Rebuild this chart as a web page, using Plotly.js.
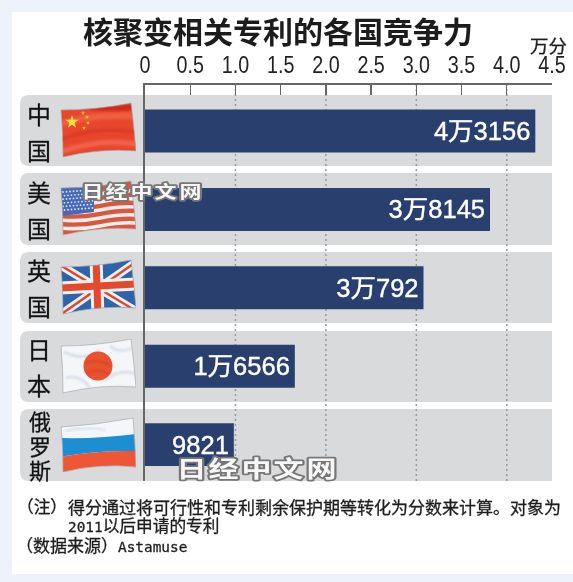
<!DOCTYPE html>
<html><head><meta charset="utf-8">
<script src="https://cdn.plot.ly/plotly-3.0.1.min.js"></script>
<style>html,body{margin:0;padding:0;background:#eef2fb;overflow:hidden}#chart{width:573px;height:582px;filter:blur(0.45px)}</style>
</head><body><div id="chart"></div>
<script>
const categories = ['中国','美国','英国','日本','俄罗斯'];
const scores = [43156,38145,30792,16566,9821];
const barLabels = ['4万3156','3万8145','3万792','1万6566','9821'];
const tickValues = [0,5000,10000,15000,20000,25000,30000,35000,40000,45000];
const tickLabels = ['0','0.5','1.0','1.5','2.0','2.5','3.0','3.5','4.0','4.5'];
const gridValues = [10000,20000,30000,40000];
const W=573,H=582;
const CJK='"Noto Sans CJK SC"';
const px=x=>x/W, py=y=>1-y/H;
const P=(x,y)=>px(x)+' '+py(y);

const bandRows=[[95,166],[173,245],[252,323],[331,402],[409,481]];
const shapes=[{type:'rect',xref:'paper',yref:'paper',x0:px(12),x1:1,y0:py(574),y1:py(12),fillcolor:'#fff',line:{width:0},layer:'below'}];
bandRows.forEach(([t,b])=>{const r=9,L=20,R=552;
 shapes.push({type:'path',xref:'paper',yref:'paper',layer:'below',fillcolor:'#d8dadc',line:{width:0},
  path:`M ${P(L+r,t)} L ${P(R,t)} L ${P(R,b)} L ${P(L+r,b)} Q ${P(L,b)} ${P(L,b-r)} L ${P(L,t+r)} Q ${P(L,t)} ${P(L+r,t)} Z`});});
gridValues.forEach(v=>shapes.push({type:'line',xref:'x',yref:'y domain',x0:v,x1:v,y0:0,y1:1,layer:'below',line:{color:'#9a9a9a',width:1.5,dash:'2px,3px'}}));

function flag(inner,clip){
 clip=clip||'M1 8 Q36 8 71 1 Q74 25 76 49 Q40 46 3 55 Q3 30 1 8 Z';
 const svg=`<svg xmlns="http://www.w3.org/2000/svg" width="228" height="168" viewBox="0 0 76 56"><defs><clipPath id="c"><path d="${clip}"/></clipPath><filter id="b"><feGaussianBlur stdDeviation="0.9"/></filter><filter id="s"><feGaussianBlur stdDeviation="0.3"/></filter></defs><g clip-path="url(#c)">${inner}</g><path d="${clip}" fill="none" stroke="#a9a9a9" stroke-width="0.7"/></svg>`;
 return 'data:image/svg+xml;charset=utf-8,'+encodeURIComponent(svg);
}
const star=(x,y,r,c)=>{let p=[];for(let i=0;i<10;i++){const a=-Math.PI/2+i*Math.PI/5,q=i%2?r*0.4:r;p.push((x+q*Math.cos(a)).toFixed(2)+','+(y+q*Math.sin(a)).toFixed(2));}return `<polygon points="${p.join(' ')}" fill="${c}"/>`;};
let usStripes='';
for(let i=0;i<6;i++){const y=12+i*8;usStripes+=`<path d="M0 ${y+4} Q20 ${y+6} 40 ${y+2} T76 ${y-1}" stroke="#f6eeea" stroke-width="3.6" fill="none"/>`;}
let usDots='';
for(let r=0;r<6;r++)for(let c=0;c<9;c++)usDots+=`<circle cx="${3+c*3.5+(r%2)*1.5}" cy="${12+r*3.6-c*0.25}" r="0.9" fill="#dfe6f6"/>`;
const flags=[
 {top:102,src:flag(`<rect width="76" height="56" fill="#e9472d"/><g filter="url(#b)">
  <path d="M0 22 Q30 12 76 14" stroke="#ef5f41" stroke-width="6" fill="none"/><path d="M0 38 Q30 24 76 30" stroke="#de3b26" stroke-width="4" fill="none"/><path d="M0 50 Q40 36 76 42" stroke="#f0634a" stroke-width="5" fill="none"/><path d="M30 5 Q50 8 76 5" stroke="#cf2a1c" stroke-width="5" fill="none"/></g>`+
  star(12,20,7,'#fde13a')+star(23,11,2.2,'#fbc92f')+star(27,15,2.2,'#fbc92f')+star(28,21,2.2,'#fbc92f')+star(24,26,2.2,'#fbc92f'))},
 {top:180,src:flag(`<rect width="76" height="56" fill="#d9573f"/><g filter="url(#s)">${usStripes}</g><path d="M0 8 L34 4 L34 32 L0 36 Z" fill="#4869b8"/>${usDots}`)},
 {top:259,src:flag(`<rect width="76" height="56" fill="#2f63aa"/><g filter="url(#s)">
  <path d="M0 6 L76 52 M76 3 L0 56" stroke="#f2f0ee" stroke-width="8"/><path d="M0 6 L76 52 M76 3 L0 56" stroke="#dc4a32" stroke-width="2.6"/>
  <path d="M36 0 L38 56 M0 29 L76 25" stroke="#f2f0ee" stroke-width="13"/><path d="M36 0 L38 56 M0 29 L76 25" stroke="#e2492f" stroke-width="7"/></g>`)},
 {top:338,src:flag(`<rect width="76" height="56" fill="#f5f6f9"/><g filter="url(#b)">
  <path d="M4 14 Q25 24 40 12 M45 42 Q60 30 76 36 M6 40 Q20 36 30 50 M50 8 Q60 16 72 10" stroke="#d5dde9" stroke-width="2.5" fill="none"/></g>
  <circle cx="38" cy="28" r="14.5" fill="#e9522f"/><g filter="url(#b)"><path d="M25 25 Q38 20 51 28 M27 35 Q38 30 49 36" stroke="#d8452a" stroke-width="2" fill="none"/></g>`)},
 {top:416,src:flag(`<rect width="76" height="56" fill="#f5f6f9"/>
  <path d="M0 22 Q38 23 76 18 L76 35 Q38 34 0 41 Z" fill="#1c8fd3"/><path d="M0 41 Q38 34 76 35 L76 60 L0 60 Z" fill="#ee5636"/><g filter="url(#b)">
  <path d="M5 15 Q30 10 45 14" stroke="#d5dde9" stroke-width="2" fill="none"/></g>`,'M1 11 Q36 9 73 2 Q75 25 76 51 Q40 47 3 56 Q3 30 1 11 Z')}
];
const images=flags.map(f=>({source:f.src,xref:'paper',yref:'paper',x:px(60),y:py(f.top),sizex:76/W,sizey:56/H,xanchor:'left',yanchor:'top',sizing:'stretch',layer:'above'}));

const annotations=[];
const note=(text,x,y,size,extra)=>annotations.push(Object.assign({text,xref:'paper',yref:'paper',x:px(x),y:py(y),showarrow:false,xanchor:'left',yanchor:'middle',align:'left',captureevents:false,font:{family:CJK,size:size,color:'#1e1e1e'}},extra||{}));
const heavy=[],wmIdx=[];
categories.forEach(name=>{const ch=[...name],three=ch.length===3,gap=three?24.5:36,size=three?22:24;
 ch.forEach((c,i)=>{heavy.push(annotations.length);annotations.push({text:c,xref:'paper',yref:'y',x:px(three?40:39),y:name,yshift:-(i-(ch.length-1)/2)*gap,showarrow:false,xanchor:'center',yanchor:'middle',font:{family:CJK,size:size,color:'#111'}});});});
heavy.push(annotations.length);
note('万分',548,45,18.5,{xanchor:'center'});
const mono=(t)=>`<span style="font-family:'DejaVu Sans Mono';font-size:14.4px">${t}</span>`;
heavy.push(annotations.length);note('（注）',15,506,16.7);
heavy.push(annotations.length);note('得分通过将可行性和专利剩余保护期等转化为分数来计算。对象为',66,506,17);
heavy.push(annotations.length);note(mono('2011')+'以后申请的专利',66,525,16.7);
heavy.push(annotations.length);note('（数据来源）'+mono('Astamuse'),14,544,17);
const wm=(x0,pitch,y,size,w)=>[...'日经中文网'].forEach((c,i)=>{wmIdx.push({i:annotations.length,w});annotations.push({text:c,xref:'paper',yref:'paper',x:px(x0+i*pitch),y:py(y),showarrow:false,xanchor:'center',yanchor:'middle',font:{family:CJK,size:size,weight:700,color:'#f7f7f7'}});});
wm(92,24.5,191,17,22);
wm(191,32.5,467,23,30);

const trace={type:'bar',orientation:'h',y:categories,x:scores,text:barLabels,textposition:'inside',insidetextanchor:'end',constraintext:'none',
 textangle:0,textfont:{family:'"Liberation Sans",'+CJK,size:25.5,color:'#fff'},marker:{color:'#29406f',line:{width:0}},width:0.548,hoverinfo:'skip',cliponaxis:false};
const layout={width:W,height:H,margin:{l:0,r:0,t:0,b:0},autosize:false,paper_bgcolor:'#eef2fb',plot_bgcolor:'rgba(0,0,0,0)',showlegend:false,
 title:{text:'核聚变相关专利的各国竞争力',x:278/W,xanchor:'center',y:py(32),yanchor:'middle',font:{family:CJK,size:30,weight:700,color:'#1c1c1c'}},
 xaxis:{domain:[px(145),px(552)],range:[0,45000],side:'top',tickmode:'array',tickvals:tickValues,ticktext:tickLabels,ticks:'inside',ticklen:10,tickwidth:1.4,tickcolor:'#666',
  showline:true,linecolor:'#666',linewidth:1.6,showgrid:false,zeroline:false,tickfont:{family:'"Liberation Sans"',size:24,color:'#222'},ticklabelstandoff:1,automargin:false,fixedrange:true},
 yaxis:{domain:[py(481),py(85)],type:'category',categoryorder:'array',categoryarray:categories,range:[4.464,-0.587],showticklabels:false,ticks:'',showgrid:false,zeroline:false,showline:true,linecolor:'#666',linewidth:1.6,automargin:false,fixedrange:true},
 shapes,images,annotations};
Plotly.newPlot('chart',[trace],layout,{displayModeBar:false,staticPlot:true}).then(gd=>{
 gd.querySelectorAll('.xtick text').forEach(t=>{const n=t.getComputedTextLength();t.setAttribute('textLength',(n*0.82).toFixed(1));t.setAttribute('lengthAdjust','spacingAndGlyphs');});
 gd.querySelectorAll('.bartext').forEach(t=>{t.setAttribute('dx','-2');t.style.stroke='#fff';t.style.strokeWidth='0.4px';});
 const ann=gd.querySelectorAll('.annotation');
 const textOf=i=>ann[i]&&ann[i].querySelector('text');
 heavy.forEach(i=>{const t=textOf(i);if(t){t.style.stroke='#1e1e1e';t.style.strokeWidth='0.3px';}});
 wmIdx.forEach(({i,w})=>{const t=textOf(i);if(!t)return;t.setAttribute('textLength',w);t.setAttribute('lengthAdjust','spacingAndGlyphs');t.style.stroke='#777';t.style.strokeWidth='3.5px';t.style.paintOrder='stroke';t.style.strokeLinejoin='round';});
});
</script></body></html>
